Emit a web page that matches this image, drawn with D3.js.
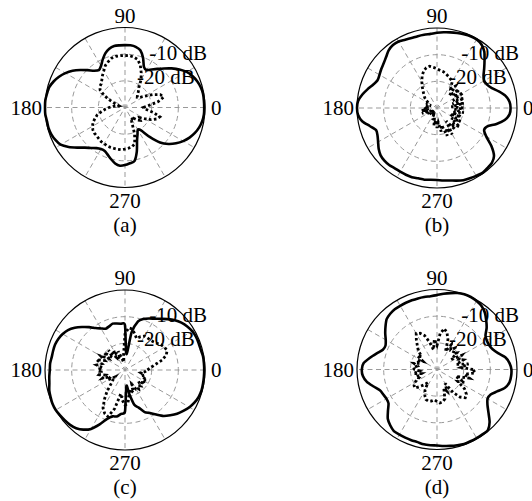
<!DOCTYPE html>
<html lang="en">
<head>
<meta charset="utf-8">
<title>Radiation patterns</title>
<script src="https://d3js.org/d3.v7.min.js"></script>
<style>
  body { margin: 0; background: #fff; }
  svg text { font-family: "Liberation Serif", "Times New Roman", Times, "DejaVu Serif", serif; font-size: 21px; fill: #000; }
</style>
</head>
<body>
<svg width="532" height="501"></svg>
<script>
// angle in degrees (0 = right, counter-clockwise), one value every 5 degrees
const angles = d3.range(0, 360, 5);
const ringLevels = [-20, -10];
const ringLabels = ["-20 dB", "-10 dB"];
const axisLabels = ["0", "90", "180", "270"];
const panelNames = ["(a)", "(b)", "(c)", "(d)"];

// levels in dB
const solidA = [
  -0.3,-0.3,-0.3,-0.6,-1.2,-2.1,-3.3,-5.1,-7.2,-9.3,-11.1,-12.6,
  -13.8,-13.2,-10.2,-7.8,-6.9,-6.6,-6.6,-6.6,-6.6,-7.2,-8.4,-10.2,
  -12.0,-12.9,-12.0,-10.2,-8.1,-6.0,-4.2,-2.7,-1.5,-0.6,-0.3,0,
  0,0,-0.3,-0.3,-0.6,-1.2,-2.1,-4.2,-6.6,-8.7,-10.2,-11.4,
  -12.0,-12.0,-11.1,-9.9,-8.7,-8.1,-8.4,-9.0,-9.6,-12.9,-16.8,-18.9,
  -20.4,-19.5,-15.6,-11.4,-8.7,-6.6,-4.8,-3.3,-2.1,-1.2,-0.6,-0.3
];
const dottedA = [
  -23.1,-21,-17.4,-15,-15.9,-18.6,-21.6,-23.4,-24,-23.4,-22.2,-21,
  -18,-15.6,-13.2,-11.4,-10.8,-10.5,-10.5,-10.5,-10.5,-10.8,-11.7,-12.6,
  -14.1,-15.3,-16.5,-17.4,-17.7,-18.6,-21,-24,-26.4,-27.6,-27,-25.5,
  -24,-22.5,-21,-19.2,-18,-16.8,-15.9,-15.3,-15,-15,-14.7,-14.4,
  -14.4,-14.1,-14.1,-14.1,-14.1,-14.1,-14.4,-14.7,-15,-15.9,-19.5,-24,
  -25.5,-24,-24.6,-23.4,-22.5,-23.4,-21.6,-19.2,-17.4,-16.5,-19.2,-22.2
];
const solidB = [
  -2.4,-2.7,-3.9,-6,-8.1,-9.3,-9.6,-8.7,-6.9,-4.8,-2.4,-0.9,
  -0.3,-0.3,-0.6,-0.9,-1.2,-1.5,-1.8,-2.1,-2.1,-2.1,-2.1,-1.8,
  -1.2,-1.2,-1.8,-3,-3.9,-4.5,-5.1,-5.4,-4.5,-3,-1.5,-0.3,
  0,-0.3,-1.5,-3.9,-5.7,-5.4,-4.5,-3.3,-2.4,-2.1,-2.1,-2.4,
  -2.4,-2.4,-2.4,-2.7,-2.7,-3,-3,-2.7,-2.4,-1.8,-1.2,-0.9,
  -0.6,-0.3,-0.6,-0.9,-2.1,-5.1,-8.7,-10.5,-9.9,-6.9,-4.2,-2.7
];
const dottedB = [
  -20.1,-24.6,-19.8,-24,-19.2,-23.4,-18.6,-22.5,-19.2,-23.4,-19.2,-21,
  -18.6,-18,-17.4,-16.8,-16.2,-15.9,-15.3,-14.7,-14.1,-14.4,-15.3,-16.8,
  -18.6,-20.4,-21.9,-23.1,-24,-25.2,-26.4,-25.5,-27.6,-25.8,-27,-25.2,
  -25.5,-27,-24,-26.4,-24,-27.6,-25.8,-28.2,-26.4,-28.5,-27,-28.2,
  -26.4,-27,-25.2,-26.4,-23.4,-25.5,-22.5,-24.6,-21,-23.4,-18.9,-21.6,
  -18.6,-24,-19.8,-22.2,-18.9,-23.4,-19.8,-24.6,-20.4,-24,-19.8,-23.4
];
const solidC = [
  -0.3,-0.3,-0.3,-0.6,-0.6,-0.6,-0.9,-1.5,-2.4,-3.6,-5.1,-6.6,
  -7.8,-8.7,-9.6,-11.1,-15.6,-24,-13.2,-12.6,-12.3,-12,-12.6,-12.9,
  -12,-10.8,-9,-7.2,-5.4,-3.9,-3,-2.4,-2.1,-2.1,-2.1,-1.8,
  -1.8,-1.5,-1.2,-0.6,-0.3,0,0,-0.3,-0.6,-0.9,-1.5,-2.7,
  -4.5,-7.5,-10.5,-12,-12.3,-13.5,-14.4,-24,-21,-16.5,-15,-12.6,
  -11.4,-9.6,-7.5,-6,-4.5,-3.3,-2.1,-1.2,-0.6,-0.3,-0.3,-0.3
];
const dottedC = [
  -21.6,-20.4,-18.6,-15.6,-13.5,-12.6,-12.9,-13.5,-14.4,-15,-15.3,-15.3,
  -15.3,-16.2,-17.4,-15.9,-14.4,-14.1,-16.5,-24,-27,-25.5,-22.5,-25.5,
  -21.6,-24,-20.4,-23.4,-19.8,-22.5,-19.5,-21.6,-18.6,-21,-19.2,-21.6,
  -19.8,-21,-20.1,-22.5,-21,-24,-22.5,-25.5,-24,-22.5,-19.5,-16.5,
  -13.5,-12,-11.4,-15,-21,-18.6,-16.8,-17.4,-21,-22.5,-21,-24,
  -21.6,-21,-22.5,-21.6,-23.4,-21,-22.5,-21,-23.4,-22.5,-24,-22.5
];
const solidD = [
  -2.1,-2.7,-3.9,-6.3,-7.8,-8.4,-8.4,-7.8,-5.7,-3.9,-2.1,-0.9,
  -0.3,0,0,-0.3,-0.9,-1.5,-2.1,-2.4,-2.4,-2.4,-2.4,-2.4,
  -2.4,-2.4,-2.7,-3.3,-4.8,-6.3,-7.8,-8.7,-8.4,-6.6,-4.5,-2.4,
  -1.8,-2.1,-3.3,-5.4,-7.2,-7.8,-8.1,-7.8,-6,-3.9,-2.7,-1.8,
  -1.8,-1.8,-1.8,-1.8,-1.5,-1.5,-1.5,-1.2,-0.9,-0.6,-0.3,-0.3,
  -0.3,-0.3,-0.3,-2.1,-4.8,-6.9,-8.1,-7.8,-6,-3.6,-2.4,-2.1
];
const dottedD = [
  -16.5,-21,-18,-22.5,-19.5,-21,-19.2,-23.4,-20.4,-21.6,-19.5,-21,
  -19.2,-22.5,-18,-15.6,-14.4,-16.5,-21,-18.6,-22.5,-19.5,-16.5,-15,
  -14.4,-16.5,-18.6,-20.1,-22.5,-21,-24,-21.6,-23.4,-21,-22.5,-21,
  -21.6,-23.4,-21,-24,-21.6,-22.5,-20.4,-19.5,-19.2,-21,-22.5,-24,
  -21,-19.2,-18,-17.7,-18,-18.6,-18,-17.4,-17.7,-18.6,-22.5,-21,
  -24,-19.5,-16.5,-15,-15.6,-17.4,-21,-18.6,-22.5,-17.4,-19.5,-15.6
];

const svg = d3.select("svg");
const R = 80;
const serif = "'Liberation Serif', 'Times New Roman', Times, 'DejaVu Serif', serif";
const centers = [[125, 107.5], [437, 108], [125, 370], [437, 369.5]];
const solids = [solidA, solidB, solidC, solidD];
const dotteds = [dottedA, dottedB, dottedC, dottedD];

const rScale = d3.scaleLinear().domain([-30, 0]).range([0, R]).clamp(true);
const toRad = deg => (90 - deg) * Math.PI / 180;

const solidLine = d3.lineRadial()
    .angle((d, i) => toRad(angles[i]))
    .radius(d => rScale(d))
    .curve(d3.curveCardinalClosed.tension(0.3));

const dottedLine = d3.lineRadial()
    .angle((d, i) => toRad(angles[i]))
    .radius(d => rScale(d))
    .curve(d3.curveLinearClosed);

function label(g, x, y, anchor, txt) {
    return g.append("text")
        .attr("x", x)
        .attr("y", y)
        .attr("text-anchor", anchor)
        .attr("font-family", serif)
        .attr("font-size", 21)
        .text(txt);
}

centers.forEach((c, p) => {
    const g = svg.append("g").attr("transform", `translate(${c[0]},${c[1]})`);

    // dashed rings
    g.selectAll(".ring")
        .data(ringLevels)
        .enter()
        .append("circle")
        .attr("r", d => rScale(d))
        .attr("fill", "none")
        .attr("stroke", "#999")
        .attr("stroke-width", 1)
        .attr("stroke-dasharray", "5,3.5");

    // spokes every 30 degrees
    g.selectAll(".spoke")
        .data(d3.range(0, 180, 30))
        .enter()
        .append("line")
        .attr("x1", d => R * Math.cos(d * Math.PI / 180))
        .attr("y1", d => -R * Math.sin(d * Math.PI / 180))
        .attr("x2", d => -R * Math.cos(d * Math.PI / 180))
        .attr("y2", d => R * Math.sin(d * Math.PI / 180))
        .attr("stroke", "#999")
        .attr("stroke-width", 1)
        .attr("stroke-dasharray", "5,3.5");

    // outer circle
    g.append("circle")
        .attr("r", R)
        .attr("fill", "none")
        .attr("stroke", "#000")
        .attr("stroke-width", 1.2);

    // ring labels
    ringLevels.forEach((lv, i) => {
        label(g, rScale(lv) * Math.cos(63 * Math.PI / 180),
              -rScale(lv) * Math.sin(63 * Math.PI / 180), "start", ringLabels[i]);
    });

    // angle labels
    label(g, R + 6, 7, "start", axisLabels[0]);
    label(g, 0, -R - 5, "middle", axisLabels[1]);
    label(g, -R - 3, 7, "end", axisLabels[2]);
    label(g, 0, R + 20, "middle", axisLabels[3]);

    // caption
    label(g, 0, 124, "middle", panelNames[p]);

    // curves
    g.append("path")
        .attr("d", dottedLine(dotteds[p]))
        .attr("fill", "none")
        .attr("stroke", "#000")
        .attr("stroke-width", 2.8)
        .attr("stroke-dasharray", "2.6,2.4");

    g.append("path")
        .attr("d", solidLine(solids[p]))
        .attr("fill", "none")
        .attr("stroke", "#000")
        .attr("stroke-width", 2.6);
});
</script>
</body>
</html>
